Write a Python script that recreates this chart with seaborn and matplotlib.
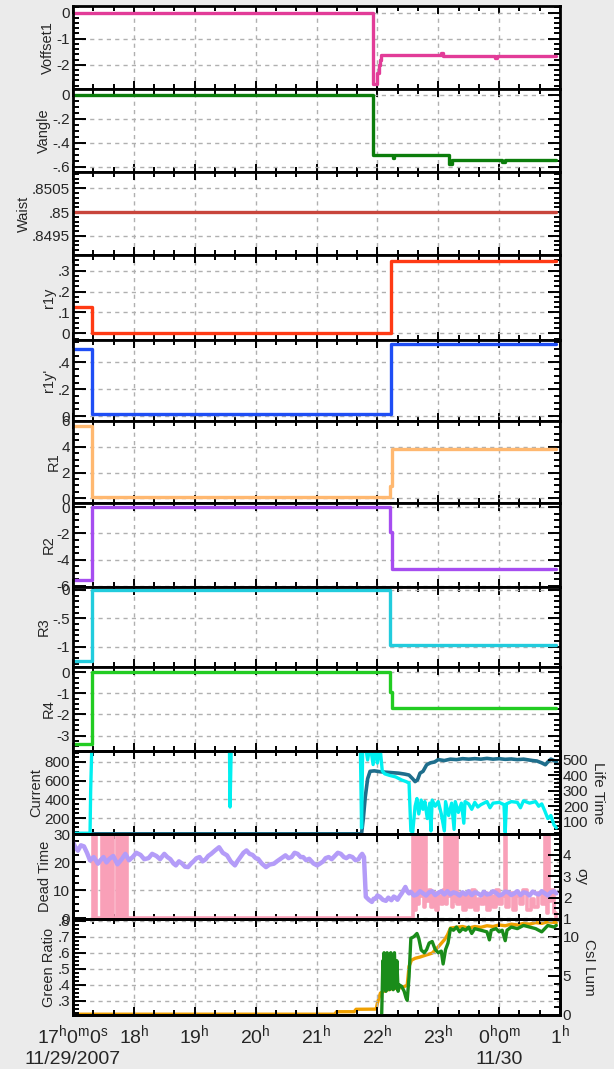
import matplotlib
matplotlib.use("Agg")
import matplotlib.pyplot as plt
import matplotlib.transforms as mtransforms
import seaborn as sns
import pandas as pd
from matplotlib.ticker import MultipleLocator

# time is in hours from 0:00 on 11/29 (values above 24 are after midnight 11/30)

# ---- step-like knob settings ----
voff_t = [17.0, 21.93, 22.0, 22.02, 22.04, 22.06, 23.05, 23.08, 23.93, 23.96, 24.94]
voff_v = [0.0, -2.72, -2.3, -2.0, -1.8, -1.63, -1.55, -1.68, -1.75, -1.68, -1.68]

vang_t = [17.0, 21.93, 22.25, 22.28, 23.18, 23.22, 24.05, 24.1, 24.94]
vang_v = [0.0, -0.5, -0.53, -0.5, -0.58, -0.545, -0.56, -0.545, -0.545]

waist_t = [17.0, 24.94]
waist_v = [0.85, 0.85]

r1y_t = [17.0, 17.32, 22.23, 24.94]
r1y_v = [0.125, 0.003, 0.345, 0.345]

r1yp_t = [17.0, 17.32, 22.23, 24.94]
r1yp_v = [0.5, 0.015, 0.54, 0.54]

r1_t = [17.0, 17.32, 22.21, 22.24, 24.94]
r1_v = [5.6, 0.12, 0.95, 3.8, 3.8]

r2_t = [17.0, 17.32, 22.21, 22.24, 24.94]
r2_v = [-5.55, 0.0, -1.9, -4.75, -4.75]

r3_t = [17.0, 17.32, 22.21, 24.94]
r3_v = [-1.26, 0.0, -0.98, -0.98]

r4_t = [17.0, 17.32, 22.21, 22.24, 24.94]
r4_v = [-3.4, 0.0, -0.95, -1.68, -1.68]

# ---- beam current (mA) and life time (min) ----
cur_t = [17.0, 21.74, 21.77, 21.8, 21.84, 21.88, 21.95, 22.05, 22.15, 22.25, 22.35, 22.45,
         22.52, 22.58, 22.62, 22.66, 22.7, 22.75, 22.81, 22.87, 22.94, 23.0, 23.1, 23.2,
         23.3, 23.4, 23.5, 23.6, 23.7, 23.8, 23.9, 24.0, 24.1, 24.2, 24.3, 24.4, 24.5,
         24.55, 24.62, 24.7, 24.76, 24.8, 24.85, 24.9, 24.94]
cur_v = [32, 32, 200, 420, 620, 700, 705, 695, 690, 685, 680, 670,
         660, 620, 590, 610, 680, 700, 770, 790, 800, 825, 815, 830,
         825, 835, 830, 835, 830, 838, 830, 835, 828, 832, 825, 830, 820,
         815, 810, 790, 770, 800, 830, 815, 800]

life_t = [17.0, 17.28, 17.29, 17.31, 19.57, 19.58, 19.6, 21.72, 21.74, 21.76, 21.8, 21.84,
          21.88, 21.93, 21.97, 22.0, 22.04, 22.08, 22.12, 22.2, 22.3, 22.4, 22.47, 22.52,
          22.55, 22.58, 22.62, 22.65, 22.68, 22.72, 22.75, 22.78, 22.82, 22.86, 22.88, 22.9,
          22.95, 23.0, 23.05, 23.1, 23.12, 23.17, 23.22, 23.26, 23.28, 23.33, 23.38, 23.42,
          23.44, 23.5, 23.55, 23.6, 23.65, 23.7, 23.8, 23.85, 23.9, 24.0, 24.08, 24.1, 24.12,
          24.2, 24.3, 24.35, 24.4, 24.5, 24.6, 24.65, 24.7, 24.75, 24.8, 24.85, 24.9, 24.94]
life_v = [25, 25, 300, 600, 600, 195, 600, 600, 60, 600, 600, 500,
          600, 470, 600, 480, 600, 430, 410, 400, 390, 370, 360, 350,
          40, 30, 200, 250, 150, 240, 180, 230, 120, 220, 40, 240,
          200, 230, 150, 40, 230, 140, 220, 50, 230, 160, 220, 90,
          230, 215, 180, 225, 195, 210, 230, 190, 220, 225, 210, 30, 215,
          230, 225, 190, 235, 220, 230, 200, 215, 170, 120, 140, 80, 60]

# ---- dead time (%) and vertical beam size ----
# values of 45 are off scale (the trace is clipped at the top of the panel)
dead_t = [17.30, 17.33, 17.35, 17.37, 17.47, 17.50, 17.52, 17.53, 17.58, 17.61,
          17.63, 17.66, 17.72, 17.76, 17.78, 17.82, 17.84, 17.89, 22.58, 22.61,
          22.63, 22.66, 22.68, 22.71, 22.73, 22.76, 22.78, 22.80, 22.84, 22.88,
          22.92, 22.96, 23.00, 23.04, 23.08, 23.11, 23.13, 23.15, 23.17, 23.19,
          23.22, 23.24, 23.27, 23.29, 23.31, 23.35, 23.40, 23.45, 23.50, 23.55,
          23.60, 23.65, 23.70, 23.75, 23.80, 23.85, 23.90, 23.95, 24.00, 24.05,
          24.09, 24.11, 24.16, 24.22, 24.28, 24.34, 24.40, 24.46, 24.52, 24.58,
          24.64, 24.70, 24.76, 24.78, 24.80, 24.82, 24.86, 24.90, 24.94]
dead_v = [45, 0, 45, 0, 45, 0, 45, 0, 45, 0,
          45, 0, 45, 0, 45, 0, 45, 0, 45, 3,
          45, 5, 45, 8, 45, 4, 45, 6, 10, 4,
          9, 3, 8, 5, 10, 45, 5, 45, 8, 45,
          4, 45, 6, 45, 5, 9, 3, 8, 4, 10,
          3, 7, 5, 9, 3, 8, 4, 10, 5, 8,
          45, 4, 9, 3, 8, 5, 10, 3, 7, 4,
          9, 5, 45, 2, 45, 6, 10, 2, 0]

sig_t = [17.0, 17.04, 17.08, 17.13, 17.18, 17.23, 17.28, 17.34, 17.41, 17.45, 17.5, 17.55,
         17.6, 17.66, 17.73, 17.8, 17.86, 17.92, 17.98, 18.04, 18.11, 18.17, 18.24, 18.3,
         18.37, 18.43, 18.5, 18.55, 18.6, 18.65, 18.69, 18.74, 18.79, 18.84, 18.89, 18.94,
         18.98, 19.03, 19.08, 19.13, 19.18, 19.22, 19.27, 19.33, 19.4, 19.46, 19.53, 19.59,
         19.66, 19.7, 19.75, 19.8, 19.85, 19.9, 19.95, 20.0, 20.04, 20.1, 20.17, 20.23,
         20.3, 20.35, 20.4, 20.45, 20.49, 20.54, 20.59, 20.64, 20.69, 20.74, 20.78, 20.83,
         20.88, 20.95, 21.01, 21.06, 21.11, 21.15, 21.2, 21.25, 21.3, 21.35, 21.4, 21.45,
         21.49, 21.54, 21.59, 21.64, 21.69, 21.72, 21.75, 21.78, 21.81, 21.86, 21.91, 21.94,
         21.97, 22.0, 22.04, 22.09, 22.14, 22.18, 22.23, 22.27, 22.3, 22.33, 22.36, 22.4,
         22.43, 22.46, 22.49, 22.52, 22.55, 22.6, 22.65, 22.7, 22.75, 22.8, 22.85, 22.9,
         22.95, 23.0, 23.05, 23.1, 23.15, 23.2, 23.25, 23.3, 23.35, 23.4, 23.45, 23.5,
         23.55, 23.6, 23.65, 23.7, 23.75, 23.8, 23.85, 23.9, 23.95, 24.0, 24.05, 24.1,
         24.15, 24.2, 24.25, 24.3, 24.35, 24.4, 24.45, 24.5, 24.55, 24.6, 24.65, 24.7,
         24.75, 24.8, 24.85, 24.9, 24.94]
sig_v = [4.6, 4.35, 4.2, 4.45, 4.4, 4.1, 3.74, 3.9, 3.59, 3.75, 3.9, 3.65,
         3.82, 3.95, 3.56, 3.8, 4.05, 3.75, 3.9, 4.1, 4.0, 3.8, 3.85, 4.05,
         3.95, 3.8, 4.05, 3.9, 3.8, 3.6, 3.51, 3.7, 3.6, 3.45, 3.43, 3.6,
         3.7, 3.85, 3.9, 3.7, 3.8, 3.95, 4.05, 4.2, 4.36, 4.1, 3.98, 3.7,
         3.51, 3.7, 3.9, 4.1, 4.21, 4.05, 4.0, 3.85, 3.82, 3.6, 3.43, 3.55,
         3.59, 3.7, 3.8, 3.9, 3.98, 3.85, 3.9, 4.1, 4.05, 3.9, 3.9, 3.75,
         3.82, 3.6, 3.51, 3.6, 3.7, 3.85, 3.9, 3.8, 3.95, 4.1, 4.05, 3.9,
         3.85, 3.95, 3.9, 3.75, 3.8, 3.95, 4.05, 3.9, 2.04, 1.9, 1.8, 1.95,
         1.95, 2.1, 2.04, 1.9, 1.85, 2.0, 1.88, 2.05, 2.0, 1.9, 2.04, 2.2,
         2.35, 2.5, 2.3, 2.2, 2.27, 2.1, 2.15, 2.3, 2.2, 2.1, 2.25, 2.3,
         2.12, 2.22, 2.3, 2.15, 2.3, 2.15, 2.25, 2.2, 2.1, 2.25, 2.15, 2.3,
         2.12, 2.25, 2.2, 2.1, 2.27, 2.15, 2.18, 2.3, 2.22, 2.1, 2.15, 2.28,
         2.25, 2.12, 2.2, 2.3, 2.12, 2.25, 2.22, 2.1, 2.28, 2.2, 2.15, 2.3,
         2.2, 2.1, 2.25, 2.3, 2.2]

# ---- green ratio and CsI luminosity ----
green_t = [22.07, 22.08, 22.09, 22.1, 22.11, 22.12, 22.13, 22.14, 22.16, 22.17, 22.19, 22.2,
           22.22, 22.23, 22.25, 22.26, 22.28, 22.3, 22.32, 22.34, 22.36, 22.4, 22.44, 22.47,
           22.49, 22.52, 22.55, 22.6, 22.65, 22.68, 22.72, 22.77, 22.81, 22.85, 22.9, 22.95,
           23.0, 23.05, 23.08, 23.12, 23.16, 23.2, 23.25, 23.3, 23.35, 23.4, 23.45, 23.5,
           23.55, 23.6, 23.7, 23.8, 23.84, 23.87, 23.95, 24.0, 24.05, 24.1, 24.13, 24.2,
           24.3, 24.4, 24.5, 24.6, 24.7, 24.75, 24.8, 24.9, 24.94]
green_v = [0.2, 0.37, 0.55, 0.38, 0.6, 0.4, 0.58, 0.36, 0.6, 0.38, 0.55, 0.37,
           0.6, 0.4, 0.58, 0.37, 0.6, 0.38, 0.55, 0.36, 0.4, 0.39, 0.36, 0.32,
           0.304, 0.45, 0.69, 0.7, 0.72, 0.69, 0.617, 0.6, 0.62, 0.66, 0.67, 0.62,
           0.6, 0.61, 0.53, 0.62, 0.66, 0.75, 0.74, 0.76, 0.73, 0.75, 0.74, 0.76,
           0.72, 0.75, 0.74, 0.73, 0.68, 0.74, 0.75, 0.73, 0.74, 0.675, 0.74, 0.76,
           0.75, 0.77, 0.76, 0.75, 0.73, 0.75, 0.77, 0.76, 0.77]

csi_t = [17.0, 21.3, 21.33, 21.62, 21.65, 21.98, 22.0, 22.05, 22.1, 22.2, 22.3, 22.4,
         22.49, 22.52, 22.56, 22.62, 22.7, 22.8, 22.9, 23.0, 23.1, 23.15, 23.2, 23.3,
         23.4, 23.5, 23.6, 23.7, 23.8, 23.9, 24.0, 24.1, 24.2, 24.3, 24.4, 24.5, 24.6,
         24.7, 24.8, 24.94]
csi_v = [0.1, 0.1, 0.42, 0.42, 0.73, 0.75, 1.5, 2.8, 3.0, 3.3, 3.4, 3.5,
         3.8, 6.2, 7.0, 7.24, 7.4, 7.66, 7.9, 8.7, 9.6, 10.2, 11.1, 11.2,
         11.3, 11.1, 11.3, 11.2, 11.4, 11.3, 11.5, 11.4, 11.6, 11.5, 11.7, 11.6, 11.8,
         11.7, 11.9, 11.8]

hour_ticks = [17, 18, 19, 20, 21, 22, 23, 24, 25]
hour_labels = [r'$\mathregular{17^h0^m0^s}$', r'$\mathregular{18^h}$', r'$\mathregular{19^h}$',
               r'$\mathregular{20^h}$', r'$\mathregular{21^h}$', r'$\mathregular{22^h}$',
               r'$\mathregular{23^h}$', r'$\mathregular{0^h0^m}$', r'$\mathregular{1^h}$']

sns.set_theme(style="ticks")
plt.rcParams['font.family'] = ['Liberation Sans', 'DejaVu Sans']
plt.rcParams['mathtext.fontset'] = 'custom'
plt.rcParams['mathtext.rm'] = 'Liberation Sans'
plt.rcParams['axes.axisbelow'] = True

TICK_FONT = ['Liberation Sans Narrow', 'Liberation Sans']

W, H = 614, 1069
fig = plt.figure(figsize=(W / 100, H / 100), dpi=100, facecolor='#ebebeb')

# panel edges in pixels from the top
edges = [6, 89, 172, 255, 340, 421, 503, 587, 667, 751, 834, 919, 1015]
x0, x1 = 73, 560


def make_ax(i):
    top, bot = edges[i], edges[i + 1]
    return fig.add_axes([x0 / W, 1 - bot / H, (x1 - x0) / W, (bot - top) / H])


def trace(ax, t, v, color, steps=False, lw=2.4):
    df = pd.DataFrame({'t': t, 'v': v})
    sns.lineplot(data=df, x='t', y='v', ax=ax, color=color, lw=lw, estimator=None,
                 sort=False, drawstyle='steps-post' if steps else 'default')


def tick_font(axis):
    for lab in axis.get_ticklabels():
        lab.set_fontfamily(TICK_FONT)
        lab.set_fontsize(11)


def style(ax, ticks, labels, ylim, minor, label, right=True):
    ax.set_facecolor('white')
    ax.set_xlim(17, 25)
    ax.set_ylim(*ylim)
    ax.set_yticks(ticks, labels)
    ax.yaxis.set_minor_locator(MultipleLocator(minor))
    ax.set_xticks(hour_ticks)
    ax.xaxis.set_minor_locator(MultipleLocator(1 / 3))
    ax.grid(True, which='major', color='#b0b0b0', ls=(0, (3, 3)), lw=1.0)
    ax.tick_params(which='both', direction='in', top=True, right=right, width=1.4, color='black')
    ax.tick_params(axis='y', which='major', length=9, pad=2)
    ax.tick_params(axis='y', which='minor', length=4.5)
    ax.tick_params(axis='x', which='major', length=6, labelbottom=False)
    ax.tick_params(axis='x', which='minor', length=3.5)
    tick_font(ax.yaxis)
    for s in ax.spines.values():
        s.set_linewidth(2)
        s.set_color('black')
    ax.set_xlabel('')
    ax.set_ylabel(label, fontsize=10.5, labelpad=1)


def style_twin(tw, ticks, labels, ylim, minor, label):
    tw.set_ylim(*ylim)
    tw.set_yticks(ticks, labels)
    tw.yaxis.set_minor_locator(MultipleLocator(minor))
    tw.tick_params(which='both', direction='in', width=1.4, color='black')
    tw.tick_params(which='major', length=9, pad=2)
    tw.tick_params(which='minor', length=4.5)
    tick_font(tw.yaxis)
    for s in tw.spines.values():
        s.set_linewidth(2)
        s.set_color('black')
    tw.set_xlabel('')
    tw.set_ylabel(label, fontsize=11, rotation=270, labelpad=12)


# Voffset1
ax = make_ax(0)
trace(ax, voff_t, voff_v, '#e23c98', steps=True)
style(ax, [0, -1, -2], ['0', '-1', '-2'], (-2.93, 0.25), 0.2, 'Voffset1')

# Vangle
ax = make_ax(1)
trace(ax, vang_t, vang_v, '#0b7d0b', steps=True)
style(ax, [0, -0.2, -0.4, -0.6], ['0', '-.2', '-.4', '-.6'], (-0.644, 0.05), 0.05, 'Vangle')

# Waist
ax = make_ax(2)
trace(ax, waist_t, waist_v, '#c8453c', steps=True)
style(ax, [0.8495, 0.85, 0.8505], ['.8495', '.85', '.8505'], (0.8491, 0.85084), 0.0001, 'Waist')

# r1y
ax = make_ax(3)
trace(ax, r1y_t, r1y_v, '#ff3a14', steps=True)
style(ax, [0, 0.1, 0.2, 0.3], ['0', '.1', '.2', '.3'], (-0.032, 0.375), 0.025, 'r1y')

# r1y'
ax = make_ax(4)
trace(ax, r1yp_t, r1yp_v, '#1f4ef5', steps=True)
style(ax, [0, 0.2, 0.4], ['0', '.2', '.4'], (-0.037, 0.568), 0.05, "r1y'")

# R1
ax = make_ax(5)
trace(ax, r1_t, r1_v, '#ffb870', steps=True)
style(ax, [0, 2, 4, 6], ['0', '2', '4', '6'], (-0.36, 6.0), 0.5, 'R1')

# R2
ax = make_ax(6)
trace(ax, r2_t, r2_v, '#a64df0', steps=True)
style(ax, [0, -2, -4, -6], ['0', '-2', '-4', '-6'], (-6.1, 0.33), 0.5, 'R2')

# R3
ax = make_ax(7)
trace(ax, r3_t, r3_v, '#22ccdd', steps=True)
style(ax, [0, -0.5, -1], ['0', '-.5', '-1'], (-1.36, 0.05), 0.1, 'R3')

# R4
ax = make_ax(8)
trace(ax, r4_t, r4_v, '#22cc22', steps=True)
style(ax, [0, -1, -2, -3], ['0', '-1', '-2', '-3'], (-3.73, 0.25), 0.25, 'R4')

# Current / Life Time
ax = make_ax(9)
trace(ax, cur_t, cur_v, '#1e6e8c', lw=2.6)
style(ax, [200, 400, 600, 800], ['200', '400', '600', '800'], (30, 917), 50, 'Current', right=False)
tw = ax.twinx()
trace(tw, life_t, life_v, '#00f0f0')
style_twin(tw, [100, 200, 300, 400, 500], ['100', '200', '300', '400', '500'], (20, 558), 25, 'Life Time')

# Dead Time / sigma y
ax = make_ax(10)
trace(ax, dead_t, dead_v, '#f9a0b8', steps=True, lw=2.6)
style(ax, [0, 10, 20, 30], ['0', '10', '20', '30'], (-0.3, 30), 2.5, 'Dead Time', right=False)
tw = ax.twinx()
trace(tw, sig_t, sig_v, '#b49cf8', lw=3.2)
style_twin(tw, [1, 2, 3, 4], ['1', '2', '3', '4'], (1, 4.98), 0.25, 'σy')

# Green Ratio / CsI Lum
ax = make_ax(11)
style(ax, [0.3, 0.4, 0.5, 0.6, 0.7, 0.8], ['.3', '.4', '.5', '.6', '.7', '.8'],
      (0.2125, 0.81), 0.025, 'Green Ratio', right=False)
tw = ax.twinx()
trace(tw, csi_t, csi_v, '#f0a000')
style_twin(tw, [0, 5, 10], ['0', '5', '10'], (0, 12.26), 1, 'CsI Lum')
trace(ax, green_t, green_v, '#1a8c1a')
ax.set_xlabel('')
ax.set_ylabel('Green Ratio', fontsize=10.5, labelpad=1)
tw.set_zorder(ax.get_zorder() - 1)
tw.patch.set_visible(True)
tw.patch.set_facecolor('white')
ax.patch.set_visible(False)
ax.set_xticks(hour_ticks, hour_labels)
ax.tick_params(axis='x', labelbottom=True, labelsize=14, pad=6)
tick_font(ax.yaxis)

trans = mtransforms.blended_transform_factory(ax.transData, ax.transAxes)
ax.text(17, -0.46, '11/29/2007', transform=trans, ha='center', va='center', fontsize=14)
ax.text(24, -0.46, '11/30', transform=trans, ha='center', va='center', fontsize=14)

fig.savefig('out.png', dpi=100, facecolor=fig.get_facecolor())
